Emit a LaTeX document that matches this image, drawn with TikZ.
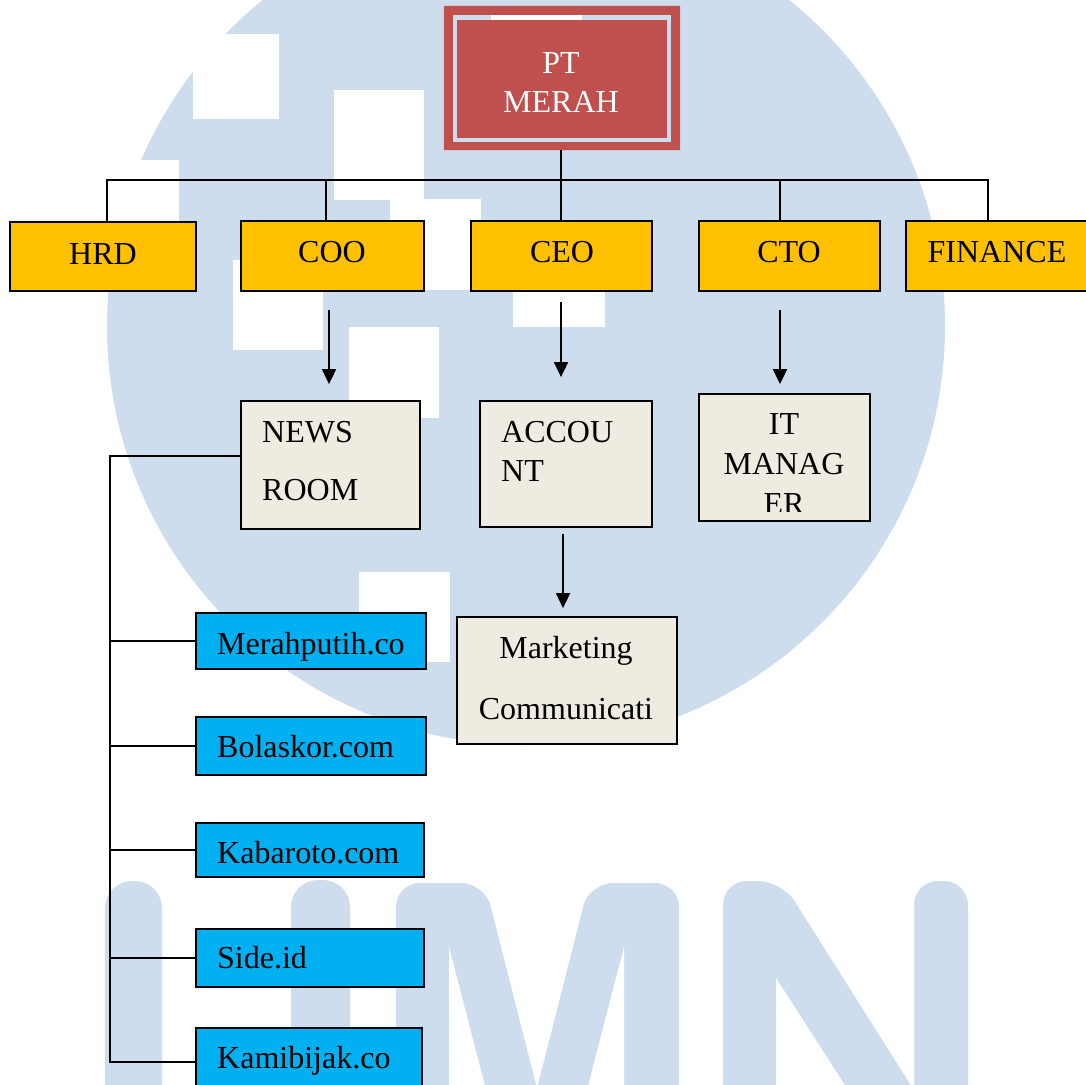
\documentclass[tikz,border=0pt]{standalone}
\usepackage{fontspec}
\setmainfont{Liberation Serif}
\usetikzlibrary{arrows.meta}
\definecolor{gold}{HTML}{FFC000}
\definecolor{sky}{HTML}{00B0F0}
\definecolor{paper}{HTML}{EEECE1}
\definecolor{brick}{HTML}{C0504D}
\definecolor{wm}{HTML}{CEDDED}
\begin{document}
\begin{tikzpicture}[x=1pt,y=-1pt,
  box/.style={draw=black, line width=1.8pt, inner sep=0pt},
  goldbox/.style={box, fill=gold, minimum height=70pt},
  paperbox/.style={box, fill=paper},
  skybox/.style={box, fill=sky},
  txt/.style={font=\fontsize{32}{38}\selectfont, inner sep=0pt, anchor=base},
  ltxt/.style={txt, anchor=base west},
  conn/.style={draw=black, line width=1.8pt},
  arr/.style={conn, -{Triangle[width=14pt,length=15pt]}}
]
\useasboundingbox (0,0) rectangle (1086,1084);
\clip (0,0) rectangle (1086,1084);
% ---- watermark background ----
\fill[white] (0,0) rectangle (1086,1084);
\fill[wm] (526,326) circle[radius=419pt];
\fill[white] (193,34) rectangle (279,119);
\fill[white] (334,90) rectangle (424,200);
\fill[white] (390,199) rectangle (481,290);
\fill[white] (90,160) rectangle (179,250);
\fill[white] (233,260) rectangle (323,350);
\fill[white] (349,327) rectangle (439,418);
\fill[white] (513,237) rectangle (605,327);
\fill[white] (491,14) rectangle (582,104);
\fill[white] (359,572) rectangle (450,662);
% U
\fill[wm, rounded corners=27pt] (105,1140) -- (105,881) -- (162,881) -- (162,1140) -- cycle;
\fill[wm, rounded corners=27pt] (291,1140) -- (291,880) -- (350,880) -- (350,1140) -- cycle;
% M
\fill[wm, rounded corners=24pt] (396,1140) -- (396,883) -- (485,883) -- (537,1088) -- (589,883) -- (679,883) -- (679,1140) -- cycle;
\fill[white] (482,871) -- (537,1088) -- (592,871) -- cycle;
\fill[white] (449,947) -- (449,1140) -- (499,1140) -- cycle;
\fill[white] (624,947) -- (624,1140) -- (574,1140) -- cycle;
% N
\fill[wm, rounded corners=24pt] (723,1140) -- (723,881) -- (782,881) -- (914,1090) -- (914,881) -- (968,881) -- (968,1140) -- (880,1140) -- (776,978) -- (776,1140) -- cycle;
\fill[white] (774,868) -- (914,1090) -- (914,868) -- cycle;
\fill[white] (776,978) -- (880,1140) -- (776,1140) -- cycle;

% ---- top box ----
\node[minimum width=236pt, minimum height=144pt, inner sep=0pt] (pt) at (562,78) {};
\fill[brick, even odd rule] (pt.north west) rectangle (pt.south east)
  ([shift={(9pt,-9pt)}]pt.north west) rectangle ([shift={(-9pt,8pt)}]pt.south east);
\fill[brick] ([shift={(13pt,-14pt)}]pt.north west) rectangle ([shift={(-13pt,12pt)}]pt.south east);
\node[txt, text=white] (tpt1) at (561,73) {PT};
\node[txt, text=white] (tpt2) at (561,112) {MERAH};

% ---- second row ----
\node[goldbox, minimum width=186pt, minimum height=69pt] (hrd) at (103,256.5) {};
\node[goldbox, minimum width=183pt] (coo) at (332.5,256) {};
\node[goldbox, minimum width=181pt] (ceo) at (561.5,256) {};
\node[goldbox, minimum width=181pt] (cto) at (789.5,256) {};
\node[goldbox, minimum width=182pt] (fin) at (997,256) {};
\node[txt] (thrd) at (103,264) {HRD};
\node[txt] (tcoo) at (332,262) {COO};
\node[txt] (tceo) at (562,262) {CEO};
\node[txt] (tcto) at (789,262) {CTO};
\node[txt] (tfin) at (997,262) {FINANCE};

% bus
\coordinate (busL) at (107,180);
\coordinate (busR) at (988,180);
\coordinate (busCOO) at (326,180);
\coordinate (busCTO) at (780,180);
\coordinate (xb) at (561,0);
\draw[conn] (pt.south -| xb) -- (ceo.north -| xb);
\draw[conn] (hrd.north -| busL) -- (busL) -- (busR) -- (fin.north -| busR);
\draw[conn] (busCOO) -- (coo.north -| busCOO);
\draw[conn] (busCTO) -- (cto.north -| busCTO);

% ---- third row ----
\node[paperbox, minimum width=179pt, minimum height=128pt] (news) at (330.5,465) {};
\node[paperbox, minimum width=172pt, minimum height=126pt] (acc) at (566,464) {};
\node[paperbox, minimum width=171pt, minimum height=127pt] (itm) at (784.5,457.5) {};
\node[paperbox, minimum width=220pt, minimum height=127pt] (mkt) at (567,680.5) {};
\node[ltxt] (tnews1) at (262,442) {NEWS};
\node[ltxt] (tnews2) at (262,500) {ROOM};
\node[ltxt] (tacc1) at (501,442) {ACCOU};
\node[ltxt] (tacc2) at (501,481) {NT};
\begin{scope}
  \clip (itm.north west) rectangle ([yshift=10pt]itm.south east);
  \node[txt] (tit1) at (784,434) {IT};
  \node[txt] (tit2) at (784,474) {MANAG};
  \node[txt] (tit3) at (784,514) {ER};
\end{scope}
\node[txt] (tmkt1) at (566,658) {Marketing};
\node[txt] (tmkt2) at (566,719) {Communicati};

% arrows
\coordinate (xa) at (329,0);
\coordinate (xc) at (780,0);
\coordinate (xd) at (563,0);
\draw[arr, shorten <=18pt, shorten >=16pt] (coo.south -| xa) -- (news.north -| xa);
\draw[arr, shorten <=10pt, shorten >=23pt] (ceo.south -| xb) -- (acc.north -| xb);
\draw[arr, shorten <=18pt, shorten >=9pt] (cto.south -| xc) -- (itm.north -| xc);
\draw[arr, shorten <=6pt, shorten >=8pt] (acc.south -| xd) -- (mkt.north -| xd);

% ---- sites ----
\node[skybox, minimum width=230pt, minimum height=56pt] (mp) at (311,641) {};
\node[skybox, minimum width=230pt, minimum height=58pt] (bola) at (311,746) {};
\node[skybox, minimum width=228pt, minimum height=54pt] (kab) at (310,850) {};
\node[skybox, minimum width=228pt, minimum height=58pt] (side) at (310,958) {};
\node[skybox, minimum width=226pt, minimum height=68pt] (kami) at (309,1062) {};
\node[ltxt] (tmp) at (217,654) {Merahputih.co};
\node[ltxt] (tbola) at (217,757) {Bolaskor.com};
\node[ltxt] (tkab) at (217,863) {Kabaroto.com};
\node[ltxt] (tside) at (217,968) {Side.id};
\node[ltxt] (tkami) at (217,1068) {Kamibijak.co};

% spine
\coordinate (sp) at (110,456);
\draw[conn] (news.west |- sp) -- (sp) -- (sp |- kami.west) -- (kami.west);
\draw[conn] (sp |- mp.west) -- (mp.west);
\draw[conn] (sp |- bola.west) -- (bola.west);
\draw[conn] (sp |- kab.west) -- (kab.west);
\draw[conn] (sp |- side.west) -- (side.west);
\end{tikzpicture}
\end{document}
